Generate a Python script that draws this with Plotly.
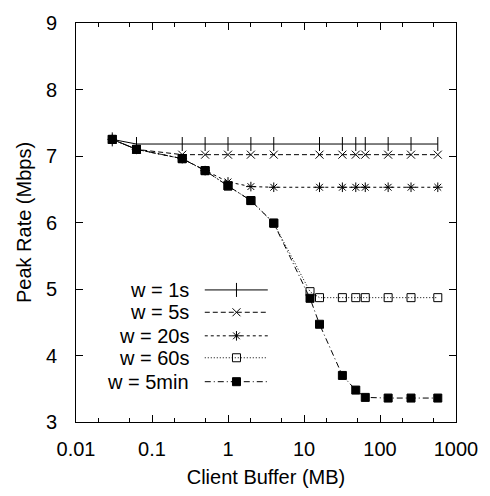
import plotly.graph_objects as go

# ---- data ----
buf_a = [0.03, 0.0625, 0.25, 0.5, 1, 2, 4, 16, 32, 48, 64, 128, 256, 576]
buf_b = [0.03, 0.0625, 0.25, 0.5, 1, 2, 4, 12, 16, 32, 48, 64, 128, 256, 576]
w_1s = [7.25, 7.18, 7.18, 7.18, 7.18, 7.18, 7.18, 7.18, 7.18, 7.18, 7.18, 7.18, 7.18, 7.18]
w_5s = [7.25, 7.10, 7.02, 7.02, 7.02, 7.02, 7.02, 7.02, 7.02, 7.02, 7.02, 7.02, 7.02, 7.02]
w_20s = [7.25, 7.10, 6.96, 6.78, 6.61, 6.54, 6.53, 6.53, 6.53, 6.53, 6.53, 6.53, 6.53, 6.53]
w_60s = [7.25, 7.10, 6.96, 6.78, 6.55, 6.33, 5.99, 4.96, 4.87, 4.87, 4.87, 4.87, 4.87, 4.87, 4.87]
w_5min = [7.25, 7.10, 6.96, 6.78, 6.55, 6.33, 5.99, 4.86, 4.47, 3.70, 3.48, 3.37, 3.36, 3.36, 3.36]
labels = ["w = 1s", "w = 5s", "w = 20s", "w = 60s", "w = 5min"]
x_ticks = [0.01, 0.1, 1, 10, 100, 1000]
x_ticktext = ["0.01", "0.1", "1", "10", "100", "1000"]
y_ticks = [3, 4, 5, 6, 7, 8, 9]

FONT = "Liberation Sans, Arial, Helvetica, sans-serif"

styles = [
    dict(dash="solid", symbol="line-ns-open", size=10, lw=1.0),
    dict(dash="5px,3px", symbol="x-thin-open", size=8, lw=1.0),
    dict(dash="3px,3px", symbol="asterisk-open", size=8, lw=1.0),
    dict(dash="1px,2px", symbol="square-open", size=8, lw=1.0),
    dict(dash="6px,3px,1px,3px", symbol="square", size=8, lw=1.0),
]
series = [(buf_a, w_1s), (buf_a, w_5s), (buf_a, w_20s), (buf_b, w_60s), (buf_b, w_5min)]

fig = go.Figure()
for (xs, ys), st, name in zip(series, styles, labels):
    fig.add_trace(go.Scatter(
        x=xs, y=ys, mode="lines+markers", name=name, showlegend=False,
        line=dict(color="black", width=st["lw"], dash=st["dash"]),
        marker=dict(symbol=st["symbol"], size=st["size"], color="black",
                    line=dict(color="black", width=1)),
    ))

# ---- custom legend (sample on the right of the text) on a hidden overlay axis ----
leg_rows = [0.331, 0.275, 0.216, 0.161, 0.101]
for row, st, name in zip(leg_rows, styles, labels):
    fig.add_trace(go.Scatter(
        x=[0.3389, 0.5047], y=[row, row], xaxis="x2", yaxis="y2",
        mode="lines", showlegend=False, hoverinfo="skip",
        line=dict(color="black", width=st["lw"], dash=st["dash"]),
    ))
    fig.add_trace(go.Scatter(
        x=[0.4223], y=[row], xaxis="x2", yaxis="y2",
        mode="markers", showlegend=False, hoverinfo="skip",
        marker=dict(symbol=st["symbol"], size=st["size"], color="black",
                    line=dict(color="black", width=1)),
    ))
    fig.add_annotation(
        x=0.2997, y=row, xref="x2", yref="y2", text=name, showarrow=False,
        xanchor="right", yanchor="middle", borderpad=0,
        font=dict(family=FONT, size=20, color="black"),
    )

axis_common = dict(
    showline=True, linecolor="black", linewidth=1, mirror="ticks",
    ticks="inside", ticklen=7, tickcolor="black", tickwidth=1,
    showgrid=False, zeroline=False,
    tickfont=dict(family=FONT, size=20, color="black"),
)

fig.update_layout(
    width=490, height=496,
    margin=dict(l=76, r=28, t=16, b=72),
    paper_bgcolor="white", plot_bgcolor="white",
    showlegend=False,
    xaxis=dict(
        type="log", range=[-2, 3], tickvals=x_ticks, ticktext=x_ticktext,
        minor=dict(ticks="inside", ticklen=4, tickcolor="black", showgrid=False),
        ticklabelstandoff=9,
        title=dict(text="Client Buffer (MB)", font=dict(family=FONT, size=20, color="black"),
                   standoff=10),
        **axis_common,
    ),
    yaxis=dict(
        range=[3, 9], tickvals=y_ticks,
        ticklabelstandoff=14,
        title=dict(text="Peak Rate (Mbps)", font=dict(family=FONT, size=20, color="black"),
                   standoff=8),
        **axis_common,
    ),
    xaxis2=dict(overlaying="x", range=[0, 1], visible=False, fixedrange=True),
    yaxis2=dict(overlaying="y", range=[0, 1], visible=False, fixedrange=True),
)

fig.write_html("out.html")
